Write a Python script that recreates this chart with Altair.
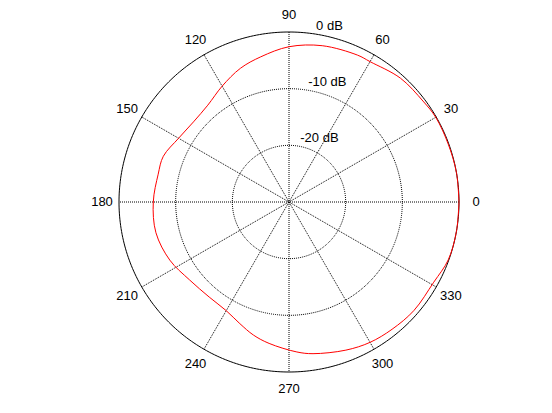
import altair as alt
import numpy as np
import pandas as pd

# Measured radiation pattern (gain in dB versus azimuth in degrees)
angle_deg = [0, 10, 20, 30, 37, 48, 60, 65, 78, 90, 101, 110, 120, 130, 140,
             150, 160, 168, 180, 193, 206, 218, 230, 240, 248, 255, 262, 273,
             279, 291, 300, 309, 319, 331, 340, 350, 360]
gain_db = [0.0, 0.0, -0.1, -0.1, -0.4, -0.6, -1.4, -1.4, -1.8, -2.6, -3.9,
           -4.9, -6.4, -7.7, -8.0, -7.5, -6.4, -6.4, -6.05, -5.9, -6.6, -7.7,
           -8.1, -7.85, -6.85, -5.7, -4.8, -3.5, -2.9, -2.0, -1.4, -1.1, -0.8,
           -0.8, -0.1, 0.0, 0.0]

# Polar grid
db_floor = -30
ring_db = [-20, -10]
ring_labels = ["-20 dB", "-10 dB", "0 dB"]
ring_label_db = [-20, -10, 0]
spoke_deg = [0, 30, 60, 90, 120, 150]
tick_deg = [0, 30, 60, 90, 120, 150, 180, 210, 240, 270, 300, 330]


def to_radius(db):
    return (np.asarray(db, dtype=float) - db_floor) / (0 - db_floor)


# Canvas geometry (pixels)
W, H = 552, 413
CX, CY, R_PX = 289, 202, 170

xs = alt.Scale(domain=[-CX / R_PX, (W - CX) / R_PX], nice=False, zero=False)
ys = alt.Scale(domain=[-(H - CY) / R_PX, CY / R_PX], nice=False, zero=False)


def xy(df):
    return dict(
        x=alt.X("x:Q", scale=xs, axis=None),
        y=alt.Y("y:Q", scale=ys, axis=None),
    )


# Pattern curve
th = np.radians(angle_deg)
rr = to_radius(gain_db)
curve = pd.DataFrame({"x": rr * np.cos(th), "y": rr * np.sin(th),
                      "i": range(len(th))})

# Circles: outer (0 dB) solid, inner rings dotted
phi = np.radians(np.arange(0, 361, 1))


def circle(level, key):
    r = float(to_radius(level))
    return pd.DataFrame({"x": r * np.cos(phi), "y": r * np.sin(phi),
                         "i": range(len(phi)), "k": key})


outer = circle(0, "outer")
rings = pd.concat([circle(d, str(d)) for d in ring_db], ignore_index=True)

# Spokes across the full diameter
sp_rows = []
for a in spoke_deg:
    t = np.radians(a)
    sp_rows.append({"x": np.cos(t), "y": np.sin(t), "k": a, "i": 0})
    sp_rows.append({"x": -np.cos(t), "y": -np.sin(t), "k": a, "i": 1})
spokes = pd.DataFrame(sp_rows)

# Angle labels just outside the outer circle
ta = np.radians(tick_deg)
ticks = pd.DataFrame({"x": 1.1 * np.cos(ta), "y": 1.1 * np.sin(ta),
                      "t": [str(a) for a in tick_deg]})

# Ring labels along the 82 degree direction
c82 = np.radians(82)
rl_r = to_radius(ring_label_db) + (1 / 3) / 20
rlab = pd.DataFrame({"x": rl_r * np.cos(c82), "y": rl_r * np.sin(c82),
                     "t": ring_labels})

FONT = "Liberation Sans"
dash = [1, 1]

spoke_layer = alt.Chart(spokes).mark_line(
    color="black", strokeWidth=1, strokeDash=dash
).encode(**xy(spokes), detail="k:N", order="i:Q")

ring_layer = alt.Chart(rings).mark_line(
    color="black", strokeWidth=1, strokeDash=dash
).encode(**xy(rings), detail="k:N", order="i:Q")

outer_layer = alt.Chart(outer).mark_line(
    color="black", strokeWidth=1
).encode(**xy(outer), order="i:Q")

curve_layer = alt.Chart(curve).mark_line(
    color="#ff0000", strokeWidth=1, interpolate="catmull-rom"
).encode(**xy(curve), order="i:Q")

tick_layer = alt.Chart(ticks).mark_text(
    font=FONT, fontSize=13, color="black", align="center", baseline="middle"
).encode(**xy(ticks), text="t:N")

rlab_layer = alt.Chart(rlab).mark_text(
    font=FONT, fontSize=13, color="black", align="left", baseline="bottom",
    dx=3, dy=2
).encode(**xy(rlab), text="t:N")

chart = alt.layer(
    spoke_layer, ring_layer, outer_layer, curve_layer, tick_layer, rlab_layer
).properties(
    width=W, height=H, padding=0,
    autosize=alt.AutoSizeParams(type="none"),
).configure_view(stroke=None)

chart.save("out.html", embed_options={"renderer": "svg", "actions": False})
